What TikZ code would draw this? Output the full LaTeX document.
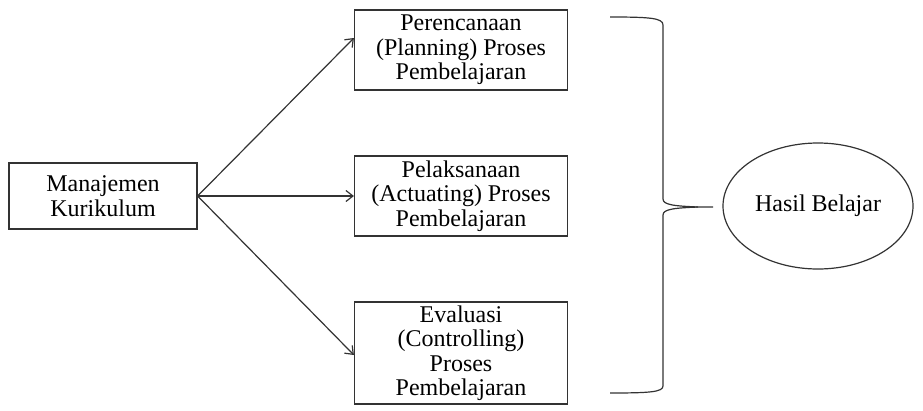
\documentclass[tikz,border=0pt]{standalone}
\usepackage{fontspec}
\setmainfont{Liberation Serif}
\usepackage{tikz}
\usetikzlibrary{positioning,arrows.meta,shapes.geometric,calc}
\tikzset{
  mbox/.style={rectangle, draw=black!80, line width=1.2pt, fill=white,
    align=center, font=\fontsize{24}{24.5}\selectfont, inner sep=0pt},
  goal/.style={ellipse, draw=black!80, line width=1.2pt, fill=white,
    align=center, font=\fontsize{24}{25}\selectfont, inner sep=0pt,
    minimum width=190pt, minimum height=126pt},
  flow/.style={-{Straight Barb[length=7pt,width=11pt,line width=1.2pt]}, draw=black!80, line width=1.2pt},
  brace/.style={draw=black!80, line width=1.2pt},
}

\begin{document}
\begin{tikzpicture}[x=1pt, y=-1pt]
\useasboundingbox (0,0) rectangle (923,410);
% ---- source ----
\node[mbox, minimum width=188pt, minimum height=66pt] (mk) at (103,196) {Manajemen\\Kurikulum};
% ---- three process boxes ----
\node[mbox, minimum width=213pt, minimum height=80pt] (plan) at (461,50)
  {Perencanaan\\(Planning) Proses\\Pembelajaran};
\node[mbox, minimum width=213pt, minimum height=80pt] (act) at (461,196)
  {Pelaksanaan\\(Actuating) Proses\\Pembelajaran};
\node[mbox, minimum width=213pt, minimum height=102pt] (eval) at (461,353)
  {Evaluasi\\(Controlling)\\Proses\\Pembelajaran};
% ---- outcome ----
\node[goal] (hb) at (818,206) {Hasil Belajar};
% ---- brace points ----
\coordinate (brtop) at (610,17);
\coordinate (brmid) at (713,207);
\coordinate (brbot) at (610,393);
% ---- arrows ----
\draw[flow] (mk.east) -- ([yshift=12pt]plan.west);
\draw[flow] (mk.east) -- (act.west);
\draw[flow] (mk.east) -- ([yshift=-2pt]eval.west);
% brace gathering the three boxes
\draw[brace] (brtop) .. controls (650,17) and (663,18) .. (663,25) -- (663,199)
  .. controls (663,205) and (675,206) .. (698,207) -- (brmid);
\draw[brace] (698,207) .. controls (675,208) and (663,209) .. (663,215) -- (663,386)
  .. controls (663,392) and (650,393) .. (brbot);
\end{tikzpicture}
\end{document}
